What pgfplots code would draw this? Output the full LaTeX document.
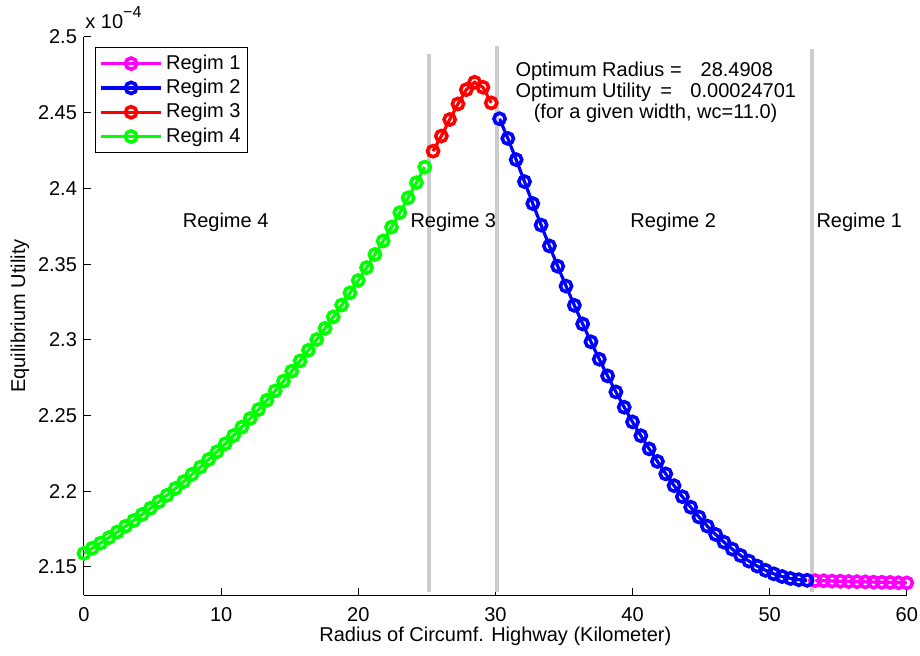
\documentclass[border=0pt]{standalone}
\usepackage{fontspec}
\setmainfont{Liberation Sans}
\usepackage{pgfplots}
\pgfplotsset{compat=1.18}

\definecolor{regOne}{rgb}{1,0,1}
\definecolor{regTwo}{rgb}{0,0,1}
\definecolor{regThree}{rgb}{1,0,0}
\definecolor{regFour}{rgb}{0,1,0}
\definecolor{divider}{RGB}{204,204,204}

\pgfplotsset{
  regime/.style={color=#1, line width=1.6pt, mark=o, mark size=2.8pt,
    mark options={solid, line width=1.8pt}},
}

\begin{document}
\begin{tikzpicture}
\begin{axis}[
  name=ax,
  scale only axis, width=411.4pt, height=279pt,
  xmin=0, xmax=60, ymin=2.1315, ymax=2.5,
  clip=false,
  axis x line*=bottom, axis y line*=left,
  axis line style={line width=0.5pt, black},
  tick align=inside, major tick length=3.5pt,
  tick style={black, line width=0.5pt},
  xtick={0,10,...,60},
  ytick={2.15,2.2,2.25,2.3,2.35,2.4,2.45,2.5},
  scaled ticks=false,
  /pgf/number format/assume math mode=true,
  ticklabel style={font=\fontsize{10}{12}\selectfont},
  xticklabel style={yshift=-2.5pt},
  label style={font=\fontsize{10}{12}\selectfont},
  xlabel={Radius of Circumf. Highway (Kilometer)},
  ylabel={Equilibrium Utility},
  xlabel style={at={(axis description cs:0.5,-0.0735)}, anchor=center},
  ylabel style={at={(axis description cs:-0.0778,0.5)}, anchor=center},
  legend cell align=left,
  legend style={at={(axis description cs:0,1)}, anchor=north west,
    xshift=5.5pt, yshift=-5pt, draw=black, line width=0.5pt, fill=white,
    font=\fontsize{10}{12}\selectfont, inner xsep=2pt, inner ysep=2pt,
    row sep=0pt, nodes={inner sep=1.7pt}},
  legend image code/.code={
    \draw[mark repeat=2, mark phase=2, #1]
      plot coordinates {(0pt,0pt) (15pt,0pt) (30pt,0pt)};},
]

% Regime 1 (largest radii)
\addplot[regime=regOne] coordinates {
(53.3333,2.1410)(53.9394,2.1409)(54.5455,2.1407)(55.1515,2.1406)(55.7576,2.1404)(56.3636,2.1403)
(56.9697,2.1402)(57.5758,2.1400)(58.1818,2.1399)(58.7879,2.1398)(59.3939,2.1396)(60.0000,2.1395)};
\addlegendentry{Regim 1}

% Regime 2
\addplot[regime=regTwo] coordinates {
(30.3030,2.4460)(30.9091,2.4330)(31.5152,2.4190)(32.1212,2.4045)(32.7273,2.3900)(33.3333,2.3758)
(33.9394,2.3620)(34.5455,2.3486)(35.1515,2.3355)(35.7576,2.3228)(36.3636,2.3105)(36.9697,2.2987)
(37.5758,2.2872)(38.1818,2.2762)(38.7879,2.2656)(39.3939,2.2555)(40.0000,2.2458)(40.6061,2.2367)
(41.2121,2.2280)(41.8182,2.2197)(42.4242,2.2115)(43.0303,2.2037)(43.6364,2.1964)(44.2424,2.1895)
(44.8485,2.1830)(45.4545,2.1770)(46.0606,2.1715)(46.6667,2.1664)(47.2727,2.1618)(47.8788,2.1576)
(48.4848,2.1539)(49.0909,2.1506)(49.6970,2.1478)(50.3030,2.1455)(50.9091,2.1437)(51.5152,2.1424)
(52.1212,2.1416)(52.7273,2.1412)};
\addlegendentry{Regim 2}

% Regime 3 (around the optimum)
\addplot[regime=regThree] coordinates {
(25.4545,2.4246)(26.0606,2.4346)(26.6667,2.4455)(27.2727,2.4558)(27.8788,2.4652)(28.4848,2.4701)
(29.0909,2.4668)(29.6970,2.4565)};
\addlegendentry{Regim 3}

% Regime 4 (smallest radii)
\addplot[regime=regFour] coordinates {
(0.0000,2.1590)(0.6061,2.1624)(1.2121,2.1658)(1.8182,2.1694)(2.4242,2.1731)(3.0303,2.1769)
(3.6364,2.1807)(4.2424,2.1847)(4.8485,2.1888)(5.4545,2.1931)(6.0606,2.1974)(6.6667,2.2019)
(7.2727,2.2064)(7.8788,2.2112)(8.4848,2.2160)(9.0909,2.2210)(9.6970,2.2261)(10.3030,2.2314)
(10.9091,2.2368)(11.5152,2.2424)(12.1212,2.2481)(12.7273,2.2540)(13.3333,2.2601)(13.9394,2.2663)
(14.5455,2.2727)(15.1515,2.2793)(15.7576,2.2861)(16.3636,2.2931)(16.9697,2.3002)(17.5758,2.3076)
(18.1818,2.3152)(18.7879,2.3230)(19.3939,2.3310)(20.0000,2.3392)(20.6061,2.3477)(21.2121,2.3564)
(21.8182,2.3653)(22.4242,2.3745)(23.0303,2.3840)(23.6364,2.3938)(24.2424,2.4038)(24.8485,2.4141)};
\addlegendentry{Regim 4}

% regime boundaries
\addplot[forget plot, no marks, color=divider, line width=2pt] coordinates {(25.17,2.1335) (25.17,2.4886)};
\addplot[forget plot, no marks, color=divider, line width=2pt] coordinates {(30.10,2.1335) (30.10,2.4939)};
\addplot[forget plot, no marks, color=divider, line width=2pt] coordinates {(53.07,2.1335) (53.07,2.4919)};

% annotations
\begin{scope}[every node/.style={font=\fontsize{10}{12}\selectfont, inner sep=0pt, anchor=base west}]
\node at (axis cs:7.18,2.374) {Regime 4};
\node at (axis cs:23.78,2.374) {Regime 3};
\node at (axis cs:39.82,2.374) {Regime 2};
\node at (axis cs:53.39,2.374) {Regime 1};
\node at (axis cs:31.44,2.4741) {Optimum Radius =\hspace{9.5pt}28.4908};
\node at (axis cs:31.44,2.4599) {Optimum Utility\hspace{4.7pt}=\hspace{9.15pt}0.00024701};
\node at (axis cs:32.77,2.4460) {(for a given width, wc=11.0)};
\node at ([xshift=0.5pt,yshift=4.4pt]rel axis cs:0,1) {x 10\raisebox{5.5pt}{\fontsize{8}{9}\selectfont −4}};
\end{scope}
\end{axis}
\pgfresetboundingbox
\path ([shift={(-42pt,-30pt)}]ax.south west) rectangle ++(460pt,327.5pt);
\end{tikzpicture}
\end{document}
